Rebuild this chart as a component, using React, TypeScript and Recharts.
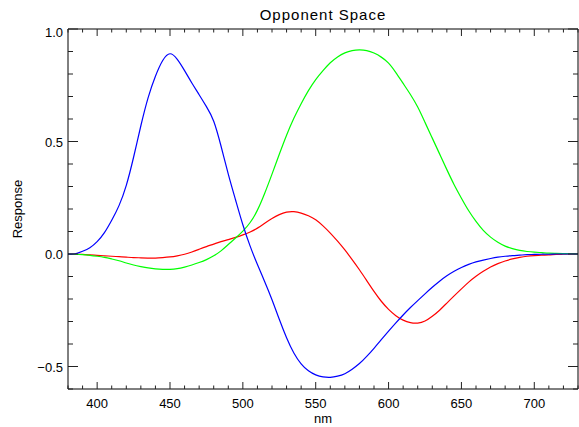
import * as React from 'react';
import { LineChart, Line, XAxis, YAxis } from 'recharts';

// wavelength samples (nm)
const wavelengths = [
	380, 385, 390, 395, 400, 405, 410, 415, 420, 425, 430, 435, 440, 445, 450, 455, 460, 465, 470, 475,
	480, 485, 490, 495, 500, 505, 510, 515, 520, 525, 530, 535, 540, 545, 550, 555, 560, 565, 570, 575,
	580, 585, 590, 595, 600, 605, 610, 615, 620, 625, 630, 635, 640, 645, 650, 655, 660, 665, 670, 675,
	680, 685, 690, 695, 700, 705, 710, 715, 720, 725, 730
];

const blueValues = [
	0, 0.001, 0.012, 0.028, 0.055, 0.095, 0.15, 0.215, 0.305, 0.43, 0.57, 0.695, 0.79, 0.86, 0.89, 0.865, 0.815, 0.76, 0.708, 0.655,
	0.59, 0.48, 0.355, 0.24, 0.13, 0.035, -0.047, -0.123, -0.203, -0.29, -0.372, -0.44, -0.488, -0.519, -0.537, -0.546, -0.548, -0.543, -0.532, -0.512,
	-0.487, -0.455, -0.419, -0.381, -0.343, -0.306, -0.271, -0.238, -0.207, -0.177, -0.148, -0.121, -0.097, -0.077, -0.06, -0.046, -0.035, -0.027, -0.02, -0.014,
	-0.01, -0.007, -0.005, -0.003, -0.002, -0.001, -0.001, 0, 0, 0, 0
];

const redValues = [
	0, -0.001, -0.002, -0.004, -0.006, -0.008, -0.01, -0.012, -0.014, -0.016, -0.017, -0.018, -0.018, -0.016, -0.013, -0.008, -0.001, 0.009, 0.021, 0.033,
	0.044, 0.055, 0.064, 0.074, 0.085, 0.098, 0.115, 0.137, 0.158, 0.175, 0.186, 0.188, 0.182, 0.17, 0.152, 0.125, 0.093, 0.057, 0.018, -0.025,
	-0.07, -0.118, -0.166, -0.21, -0.246, -0.274, -0.294, -0.305, -0.307, -0.298, -0.277, -0.25, -0.218, -0.186, -0.155, -0.125, -0.099, -0.077, -0.058, -0.043,
	-0.031, -0.022, -0.015, -0.01, -0.007, -0.005, -0.004, -0.002, -0.001, 0, 0
];

const greenValues = [
	0, -0.001, -0.003, -0.006, -0.01, -0.015, -0.022, -0.03, -0.04, -0.049, -0.056, -0.062, -0.066, -0.068, -0.068, -0.065, -0.058, -0.049, -0.038, -0.025,
	-0.008, 0.014, 0.042, 0.071, 0.102, 0.14, 0.195, 0.27, 0.355, 0.443, 0.528, 0.603, 0.668, 0.726, 0.775, 0.815, 0.85, 0.876, 0.894, 0.904,
	0.907, 0.904, 0.893, 0.875, 0.848, 0.806, 0.758, 0.709, 0.653, 0.585, 0.515, 0.445, 0.375, 0.308, 0.248, 0.192, 0.145, 0.105, 0.075, 0.052,
	0.035, 0.024, 0.016, 0.011, 0.008, 0.006, 0.004, 0.003, 0.002, 0.001, 0
];

const xTicks = [
	380, 390, 400, 410, 420, 430, 440, 450, 460, 470, 480, 490, 500, 510, 520, 530, 540, 550,
	560, 570, 580, 590, 600, 610, 620, 630, 640, 650, 660, 670, 680, 690, 700, 710, 720, 730
];
const yTicks = [-0.6, -0.5, -0.4, -0.3, -0.2, -0.1, 0, 0.1, 0.2, 0.3, 0.4, 0.5, 0.6, 0.7, 0.8, 0.9, 1.0];

const data = wavelengths.map((nm, i) => ({
	nm,
	blue: blueValues[i],
	red: redValues[i],
	green: greenValues[i]
}));

const font = '"Liberation Sans", Arial, sans-serif';
const tickColor = '#222';

const isMajorX = (v: number) => v % 50 === 0;
const isMajorY = (v: number) => Math.abs(v * 2 - Math.round(v * 2)) < 1e-6;
const fmtY = (v: number) => (v < 0 ? '\u2212' : '') + Math.abs(v).toFixed(1);

const BottomTick = (props: any) => {
	const { x, y, payload } = props;
	const major = isMajorX(payload.value);
	return (
		<g>
			<line x1={x} x2={x} y1={y} y2={y - (major ? 7 : 3.5)} stroke={tickColor} />
			{major && (
				<text x={x} y={y + 19} textAnchor="middle" fontSize={13} fontFamily={font} fill="#000">
					{payload.value}
				</text>
			)}
		</g>
	);
};

const TopTick = (props: any) => {
	const { x, y, payload } = props;
	const major = isMajorX(payload.value);
	return <line x1={x} x2={x} y1={y} y2={y + (major ? 7 : 3.5)} stroke={tickColor} />;
};

const LeftTick = (props: any) => {
	const { x, y, payload } = props;
	const v = payload.value;
	const major = isMajorY(v);
	return (
		<g>
			<line x1={x} x2={x + (major ? 10 : 5)} y1={y} y2={y} stroke={tickColor} />
			{major && (
				<text x={x - 5} y={y + (v >= 1 ? 8 : 5)} textAnchor="end" fontSize={13} fontFamily={font} fill="#000">
					{fmtY(v)}
				</text>
			)}
		</g>
	);
};

const RightTick = (props: any) => {
	const { x, y, payload } = props;
	const major = isMajorY(payload.value);
	return <line x1={x} x2={x - (major ? 10 : 5)} y1={y} y2={y} stroke={tickColor} />;
};

const TitleLabel = (props: any) => {
	const vb = props.viewBox;
	return (
		<text x={vb.x + vb.width / 2} y={vb.y - 8} textAnchor="middle" fontSize={15} letterSpacing={1} fontFamily={font} fill="#000">
			Opponent Space
		</text>
	);
};

const YTitle = (props: any) => {
	const vb = props.viewBox;
	const cx = vb.x + 22;
	const cy = vb.y + vb.height / 2;
	return (
		<text x={cx} y={cy} transform={`rotate(-90 ${cx} ${cy})`} textAnchor="middle" fontSize={13} fontFamily={font} fill="#000">
			Response
		</text>
	);
};

const XTitle = (props: any) => {
	const vb = props.viewBox;
	return (
		<text x={vb.x + vb.width / 2} y={vb.y + 34} textAnchor="middle" fontSize={13} fontFamily={font} fill="#000">
			nm
		</text>
	);
};

export default function App() {
	return (
		<div style={{ position: 'absolute', left: 0, top: 0, background: '#fff' }}>
			<LineChart width={579} height={427} data={data} margin={{ top: 28, right: 0, bottom: 0, left: 0 }}>
				<XAxis
					dataKey="nm"
					type="number"
					domain={[380, 730]}
					ticks={xTicks}
					interval={0}
					allowDataOverflow
					height={38}
					tickSize={0}
					tickMargin={0}
					tickLine={false}
					axisLine={{ stroke: '#000' }}
					tick={BottomTick}
					label={<XTitle />}
				/>
				<XAxis
					xAxisId="top"
					orientation="top"
					dataKey="nm"
					type="number"
					domain={[380, 730]}
					ticks={xTicks}
					interval={0}
					allowDataOverflow
					height={1}
					tickSize={0}
					tickMargin={0}
					tickLine={false}
					axisLine={{ stroke: '#000' }}
					tick={TopTick}
					label={<TitleLabel />}
				/>
				<YAxis
					type="number"
					domain={[-0.6, 1]}
					ticks={yTicks}
					interval={0}
					allowDataOverflow
					width={68}
					tickSize={0}
					tickMargin={0}
					tickLine={false}
					axisLine={{ stroke: '#000' }}
					tick={LeftTick}
					label={<YTitle />}
				/>
				<YAxis
					yAxisId="right"
					orientation="right"
					type="number"
					domain={[-0.6, 1]}
					ticks={yTicks}
					interval={0}
					allowDataOverflow
					width={1}
					tickSize={0}
					tickMargin={0}
					tickLine={false}
					axisLine={{ stroke: '#000' }}
					tick={RightTick}
				/>
				<Line type="natural" dataKey="red" stroke="#ff0000" strokeWidth={1.2} dot={false} isAnimationActive={false} />
				<Line type="natural" dataKey="green" stroke="#00ff00" strokeWidth={1.2} dot={false} isAnimationActive={false} />
				<Line type="natural" dataKey="blue" stroke="#0000ff" strokeWidth={1.2} dot={false} isAnimationActive={false} />
			</LineChart>
		</div>
	);
}
